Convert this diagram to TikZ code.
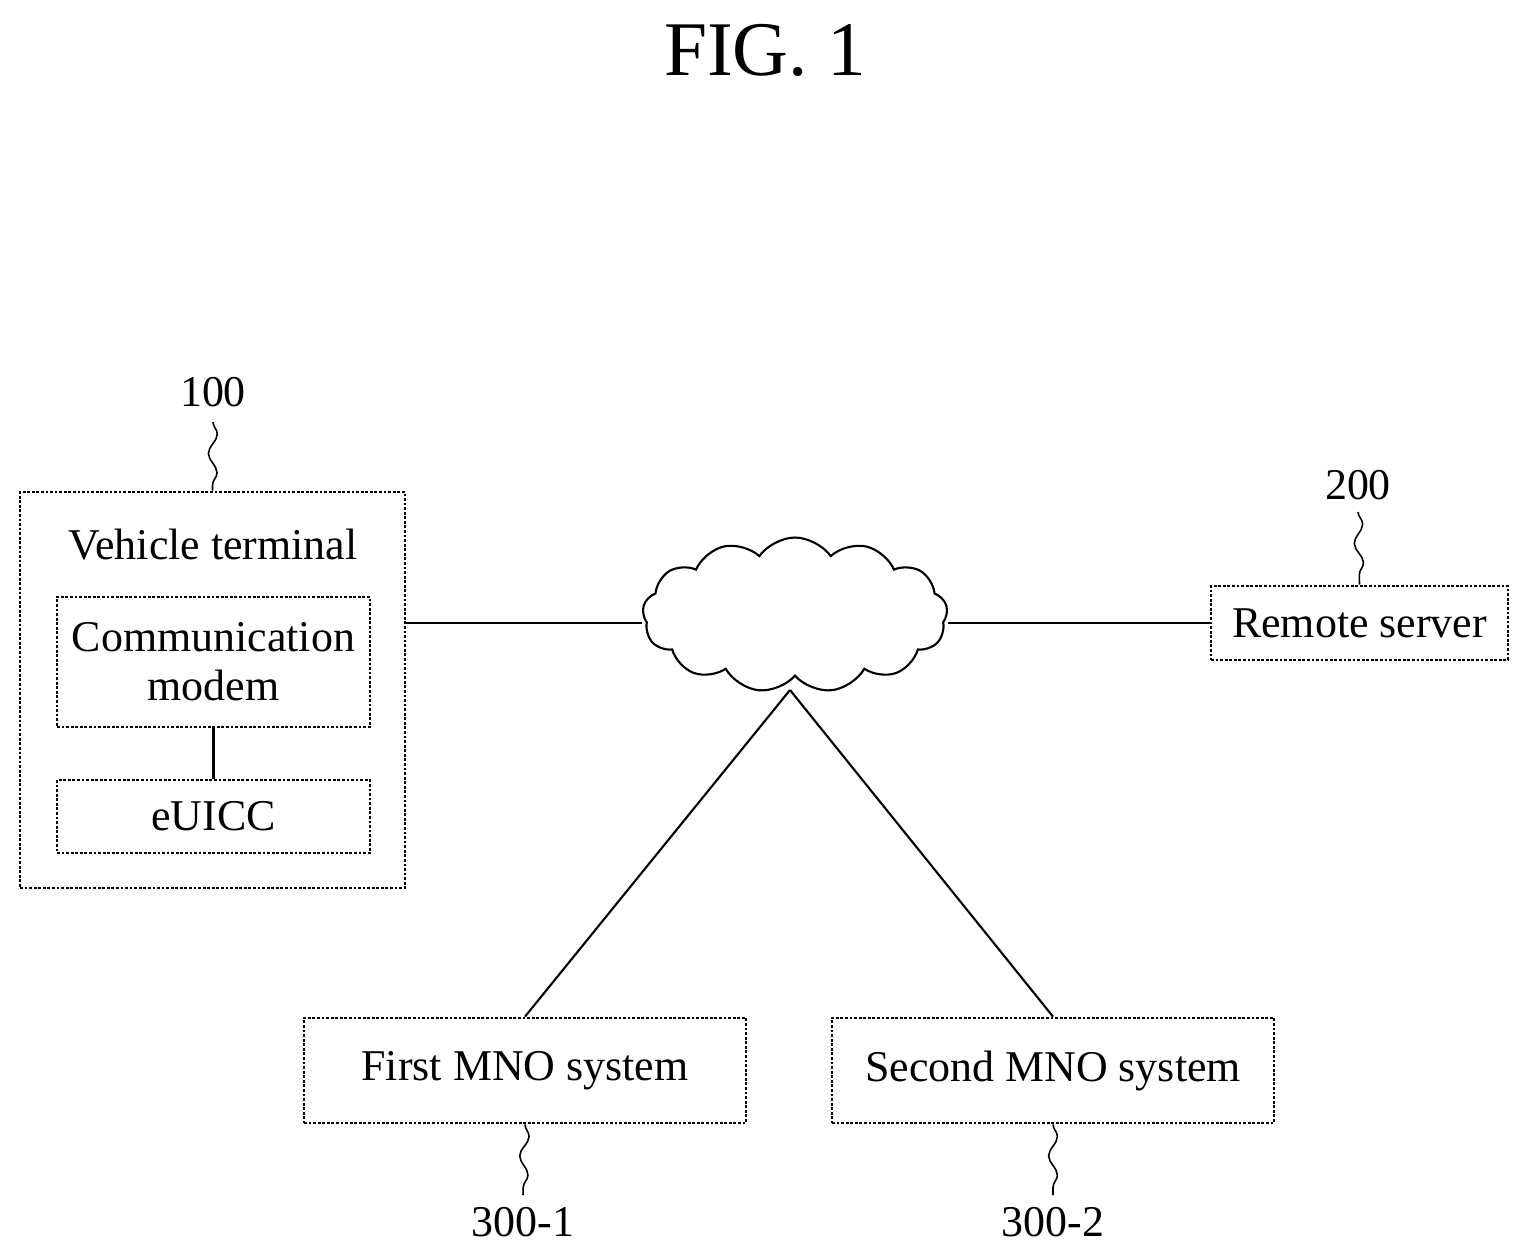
\documentclass[tikz,border=0pt]{standalone}
\usepackage{fontspec}
\setmainfont{Liberation Serif}
\usetikzlibrary{shapes.symbols,decorations.pathmorphing}
\begin{document}
\begin{tikzpicture}[x=0.02cm,y=-0.02cm,
    box/.style={draw,line width=1.6pt,densely dotted,inner sep=0pt},
    lbl/.style={font=\fontsize{25}{30}\selectfont},
    wig/.style={line width=0.9pt,decorate,decoration={snake,amplitude=2.5pt,segment length=22pt}},
    link/.style={line width=1.2pt}]
  \useasboundingbox (0,0) rectangle (1531,1260);
  \node[font=\fontsize{44}{50}\selectfont] (title) at (765,50) {FIG. 1};

  % vehicle terminal
  \node[box,minimum width=385\pgflinewidth,minimum width=7.7cm,minimum height=7.92cm] (vt) at (212.5,690) {};
  \node[lbl] (vtx) at (213,545) {Vehicle terminal};
  \node[box,minimum width=6.26cm,minimum height=2.6cm,align=center,lbl] (modem) at (213.5,662) {Communication\\[-2pt]modem};
  \node[box,minimum width=6.26cm,minimum height=1.46cm,lbl] (euicc) at (213.5,816.5) {eUICC};
  \draw[link] (modem) -- (euicc);
  \node[lbl] (n100) at (213,392) {100};
  \coordinate (t100) at (213,422);
  \draw[wig] (t100) -- (vt.north);

  % network
  \node[cloud,draw,line width=1.2pt,cloud puffs=13,cloud puff arc=110,aspect=2.1,minimum width=6.1cm,minimum height=3.1cm] (net) at (795,615) {};
  \node[box,minimum width=5.94cm,minimum height=1.48cm,lbl] (rs) at (1359.5,623) {Remote server};
  \node[lbl] (n200) at (1358,485) {200};
  \coordinate (t200) at (1358,512);
  \draw[wig] (t200) -- (rs.north);
  \draw[link] (vt.east |- rs) -- (net.west |- rs);
  \draw[link] (net.east |- rs) -- (rs.west);

  % MNO systems
  \node[box,minimum width=8.84cm,minimum height=2.1cm,lbl] (mno1) at (525,1070.5) {First MNO system};
  \node[box,minimum width=8.84cm,minimum height=2.1cm,lbl] (mno2) at (1053,1070.5) {Second MNO system};
  \coordinate (nb) at (790,690);
  \draw[link] (nb) -- (mno1.north);
  \draw[link] (nb) -- (mno2.north);
  \node[lbl] (n3001) at (523,1222) {300-1};
  \node[lbl] (n3002) at (1053,1222) {300-2};
  \coordinate (t3001) at (523,1195);
  \coordinate (t3002) at (1053,1195);
  \draw[wig] (mno1.south) -- (t3001);
  \draw[wig] (mno2.south) -- (t3002);
\end{tikzpicture}
\end{document}
